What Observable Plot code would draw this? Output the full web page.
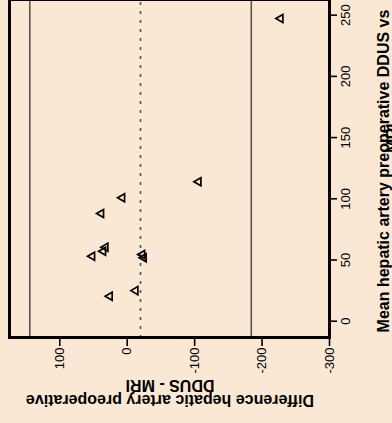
<!DOCTYPE html>
<html>
<head>
<meta charset="utf-8">
<script src="https://cdn.jsdelivr.net/npm/d3@7"></script>
<script src="https://cdn.jsdelivr.net/npm/@observablehq/plot@0.6"></script>
<style>
  html, body { margin: 0; padding: 0; background: #fae8d4; overflow: hidden; }
  #wrap { position: relative; width: 392px; height: 423px; overflow: hidden; }
  #wrap svg { position: absolute; left: 0; top: 0; width: 423px !important; height: 392px !important;
    max-width: none !important; transform-origin: 0 0;
    transform: translate(0px, 423px) rotate(-90deg); }
</style>
</head>
<body>
<div id="wrap"></div>
<script>
// Bland-Altman data
const meanValues = [247.3, 113.9, 100.8, 88.0, 60.5, 57.2, 53.1, 54.5, 51.8, 25.0, 20.4];
const diffValues = [-227.4, -105.8, 7.4, 38.6, 32.2, 35.6, 51.9, -22.3, -24.6, -12.3, 25.8];
const meanDifference = [-19.7];
const limitsOfAgreement = [144.5, -184.0];
const meanTicks = [0, 50, 100, 150, 200, 250];
const diffTicks = [-300, -200, -100, 0, 100];
const meanLabelLines = ["Mean hepatic artery preoperative DDUS vs", "MRI"];
const diffLabelLines = ["Difference hepatic artery preoperative", "DDUS - MRI"];

const points = meanValues.map((m, i) => ({mean: m, diff: diffValues[i]}));
const bg = "#fae8d4";

const chart = Plot.plot({
  width: 423,
  height: 392,
  marginLeft: 85,
  marginRight: 0,
  marginTop: 9,
  marginBottom: 63,
  style: {background: bg, fontFamily: "'Liberation Sans', Arial, sans-serif", fontSize: "13px", color: "black"},
  x: {domain: [-13.3, 262.8]},
  y: {domain: [-300, 174.6]},
  marks: [
    Plot.ruleY(limitsOfAgreement, {stroke: "#555", strokeWidth: 1.6}),
    Plot.ruleY(meanDifference, {stroke: "#555", strokeWidth: 1.6, strokeDasharray: "3,6"}),
    Plot.dot(points, {x: "mean", y: "diff", symbol: "triangle", r: 3, stroke: "black", strokeWidth: 1.7, fill: "none"}),
    Plot.frame({stroke: "black", strokeWidth: 3}),
    Plot.axisX({ticks: meanTicks, tickSize: 8, tickPadding: 3, label: null, strokeWidth: 1.6, tickFormat: d => String(d)}),
    Plot.axisY({ticks: diffTicks, tickSize: 8, tickPadding: 2, label: null, strokeWidth: 1.6, tickFormat: d => String(d)})
  ]
});

const svg = d3.select(chart);
const lab = {"font-family": "'Liberation Sans', Arial, sans-serif", "font-size": "16px", "font-weight": "bold", "text-anchor": "middle", "fill": "black"};
function addText(sel, attrs) { for (const k in attrs) sel.attr(k, attrs[k]); return sel; }
// original x axis label (below)
addText(svg.append("text").attr("x", 252).attr("y", 388.5).text(meanLabelLines[0]), lab);
addText(svg.append("text").attr("x", 285).attr("y", 398).text(meanLabelLines[1]), lab);
// original y axis label (left, rotated)
addText(svg.append("text").attr("transform", "translate(28,170) rotate(-90)").text(diffLabelLines[0]), lab);
addText(svg.append("text").attr("transform", "translate(43,170) rotate(-90)").text(diffLabelLines[1]), lab);

document.getElementById("wrap").appendChild(chart);
</script>
</body>
</html>
